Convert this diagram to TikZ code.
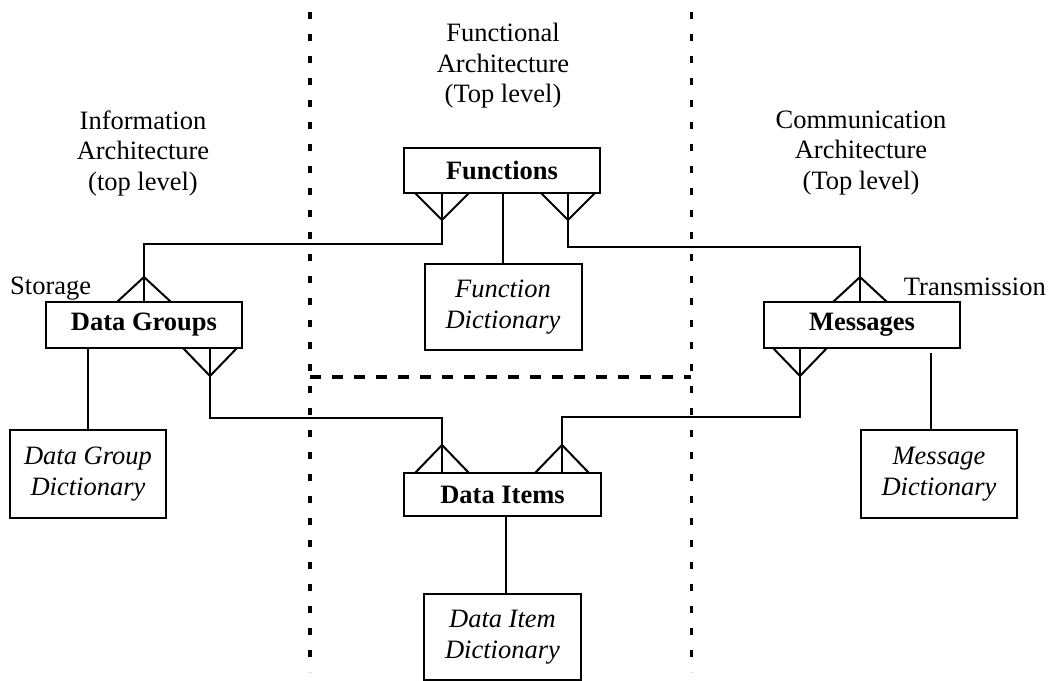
\documentclass[tikz,border=0pt]{standalone}
\usepackage{fontspec}
\setmainfont{Liberation Serif}
\usetikzlibrary{calc}
\begin{document}
\begin{tikzpicture}[x=1pt,y=-1pt,
  txt/.style={font=\fontsize{26.5}{30.5}\selectfont},
  entity/.style={txt, draw, line width=2pt, inner sep=0pt, font=\fontsize{26.5}{30.5}\selectfont\bfseries},
  dict/.style={txt, draw, line width=2pt, inner sep=0pt, align=center, font=\fontsize{26.5}{30.5}\selectfont\itshape},
  link/.style={line width=2pt},
  region/.style={line width=4pt, dash pattern=on 7pt off 15pt},
  heading/.style={txt, align=center, inner sep=0pt}]
\useasboundingbox (0,0) rectangle (1052,680);

% region separators
\draw[region] (310,12) -- (310,672);
\draw[region, line width=3pt] (691,12) -- (691,672);
\draw[region, dash pattern=on 11pt off 11pt] (310,377) -- (691,377);

% headings
\node[heading] (hf) at (503,66) {Functional\\Architecture\\(Top level)};
\node[heading] (hi) at (143,153) {Information\\Architecture\\(top level)};
\node[heading] (hc) at (861,153) {Communication\\Architecture\\(Top level)};
\node[txt, anchor=base west, inner sep=0pt] (st) at (10,294) {Storage};
\node[txt, anchor=base east, inner sep=0pt] (tr) at (1046,295) {Transmission};

% entities
\node[entity, minimum width=196pt, minimum height=45pt] (fn) at (502,170.5) {Functions};
\node[entity, minimum width=196pt, minimum height=46pt] (dg) at (144,325) {Data Groups};
\node[entity, minimum width=196pt, minimum height=46pt] (ms) at (862,325) {Messages};
\node[entity, minimum width=197pt, minimum height=43pt] (di) at (502.5,494.5) {Data Items};

% dictionaries
\node[dict, minimum width=157pt, minimum height=86pt] (fd) at (503,307) {Function\\Dictionary};
\node[dict, minimum width=156pt, minimum height=88pt] (dgd) at (88,474) {Data Group\\Dictionary};
\node[dict, minimum width=156pt, minimum height=88pt] (msd) at (939,474) {Message\\Dictionary};
\node[dict, minimum width=157pt, minimum height=86pt] (did) at (502.5,637) {Data Item\\Dictionary};

% entity to dictionary links
\draw[link] (fd.north) -- (fd.north |- fn.south);
\draw[link] (dgd.north) -- (dgd.north |- dg.south);
\draw[link] ($(msd.north)+(-8,0)$) -- ($(msd.north |- ms.south)+(-8,4)$);
\draw[link] ($(did.north)+(3,0)$) -- ($(did.north |- di.south)+(3,0)$);

% crow's-foot apexes
\coordinate (fnL) at (442,220);
\coordinate (fnR) at (568,220);
\coordinate (dgT) at (144,277);
\coordinate (dgB) at (210,376);
\coordinate (msT) at (860,277);
\coordinate (msB) at (800,376);
\coordinate (diL) at (442,445);
\coordinate (diR) at (562,445);

% Functions -- Data Groups
\draw[link] (fnL |- fn.south) -- (fnL) -- ++(0,24) -| (dgT) -- (dgT |- dg.north);
\draw[link] (fnL) -- ++(-27,-27) (fnL) -- ++(27,-27);
\draw[link] (dgT) -- ++(-27,25) (dgT) -- ++(27,25);

% Functions -- Messages
\draw[link] (fnR |- fn.south) -- (fnR) -- ++(0,27) -| (msT) -- (msT |- ms.north);
\draw[link] (fnR) -- ++(-27,-27) (fnR) -- ++(27,-27);
\draw[link] (msT) -- ++(-27,25) (msT) -- ++(27,25);

% Data Groups -- Data Items
\draw[link] (dgB |- dg.south) -- (dgB) -- ++(0,42) -| (diL) -- (diL |- di.north);
\draw[link] (dgB) -- ++(-27,-28) (dgB) -- ++(27,-28);
\draw[link] (diL) -- ++(-27,28) (diL) -- ++(27,28);

% Messages -- Data Items
\draw[link] (msB |- ms.south) -- (msB) -- ++(0,41) -| (diR) -- (diR |- di.north);
\draw[link] (msB) -- ++(-27,-28) (msB) -- ++(27,-28);
\draw[link] (diR) -- ++(-27,28) (diR) -- ++(27,28);
\end{tikzpicture}
\end{document}
